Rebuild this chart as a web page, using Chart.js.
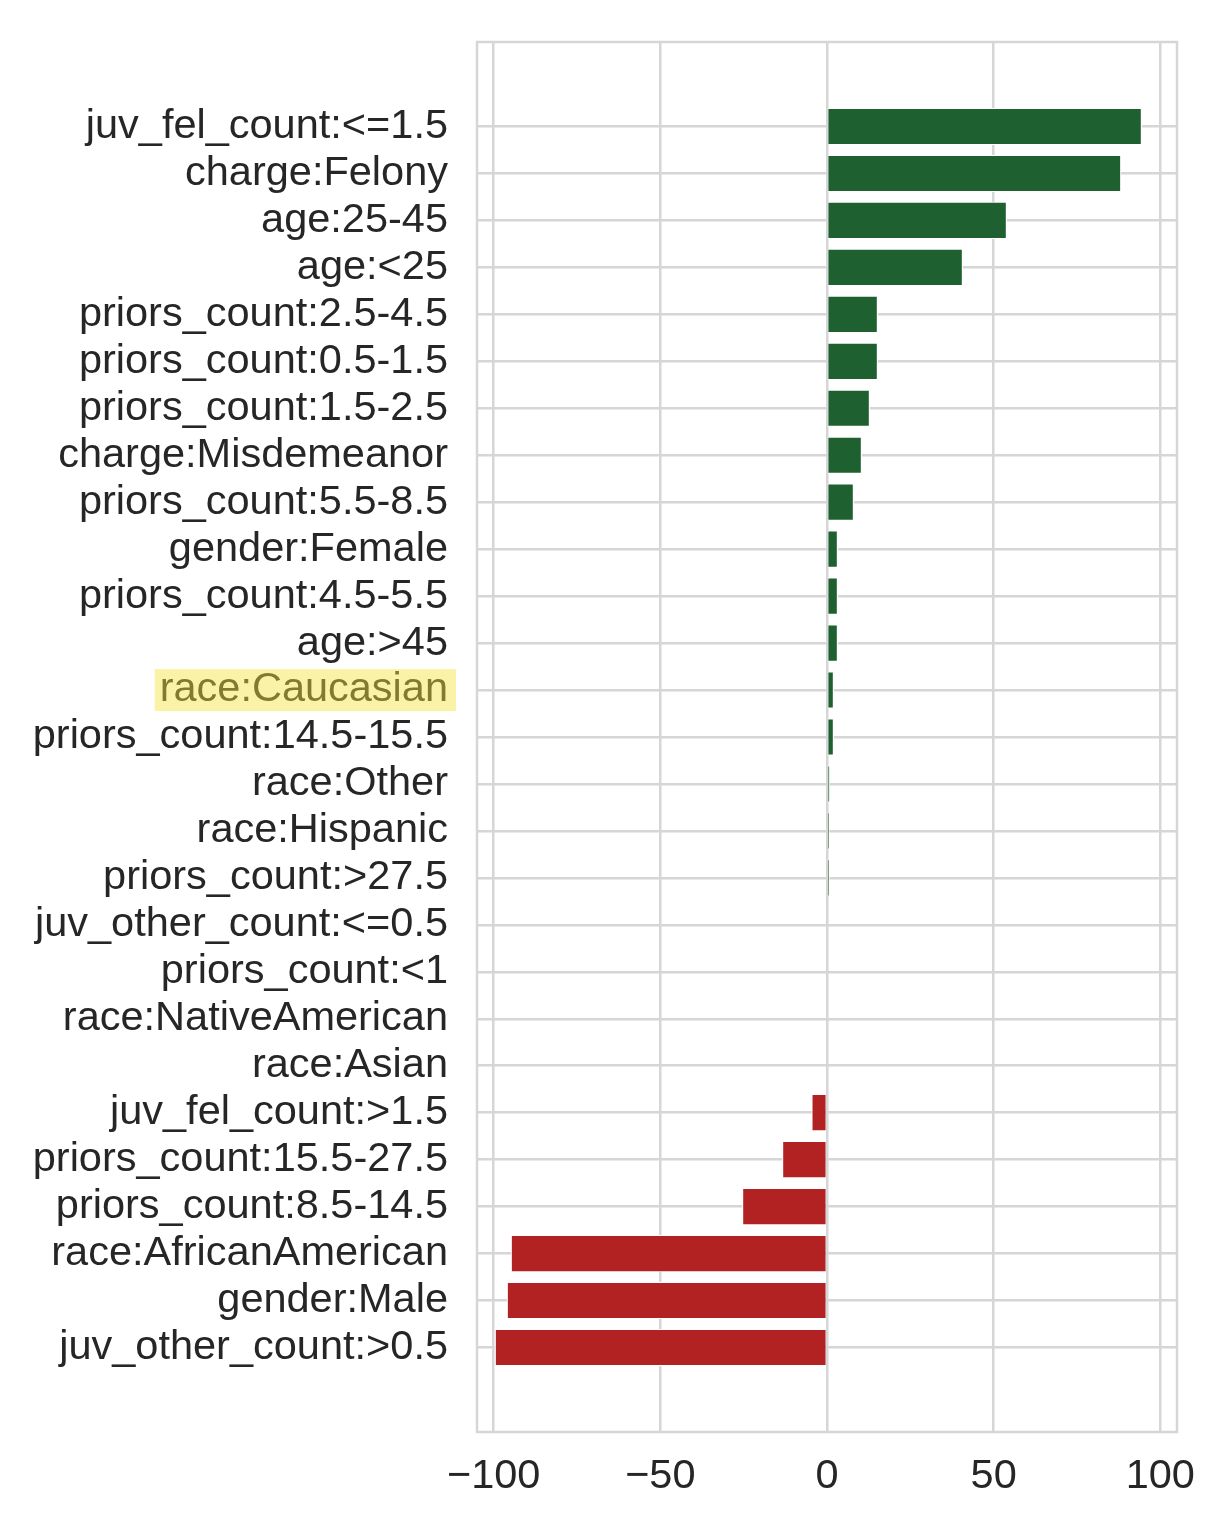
<!DOCTYPE html>
<html>
<head>
<meta charset="utf-8">
<script src="https://cdn.jsdelivr.net/npm/chart.js@4.4.3/dist/chart.umd.min.js"></script>
<style>
  html, body { margin: 0; padding: 0; background: #fff; }
  #wrap { width: 1221px; height: 1530px; position: relative; }
</style>
</head>
<body>
<div id="wrap"><canvas id="chart"></canvas></div>
<script>
// Feature weights, top to bottom
const features = [
  'juv_fel_count:<=1.5', 'charge:Felony', 'age:25-45', 'age:<25',
  'priors_count:2.5-4.5', 'priors_count:0.5-1.5', 'priors_count:1.5-2.5',
  'charge:Misdemeanor', 'priors_count:5.5-8.5', 'gender:Female',
  'priors_count:4.5-5.5', 'age:>45', 'race:Caucasian', 'priors_count:14.5-15.5',
  'race:Other', 'race:Hispanic', 'priors_count:>27.5', 'juv_other_count:<=0.5',
  'priors_count:<1', 'race:NativeAmerican', 'race:Asian', 'juv_fel_count:>1.5',
  'priors_count:15.5-27.5', 'priors_count:8.5-14.5', 'race:AfricanAmerican',
  'gender:Male', 'juv_other_count:>0.5'
];
const weights = [
  94.5, 88.3, 54.0, 40.8,
  15.3, 15.3, 12.9,
  10.5, 8.1, 3.3,
  3.3, 3.3, 2.1, 2.1,
  0.9, 0.8, 0.8, 0,
  0, 0, 0, -4.7,
  -13.5, -25.5, -94.9,
  -96.1, -99.7
];
const xTicks = [-100, -50, 0, 50, 100];
const highlighted = 'race:Caucasian';

const GREEN = '#1e6030';
const RED = '#b22222';
const GRID = '#d6d6d6';
const TEXT = '#262626';
const FONT = { family: "'Liberation Sans', Arial, sans-serif", size: 41.5 };
const LABEL_PAD = 29;

// frame on all four sides, like the seaborn whitegrid look
const framePlugin = {
  id: 'frame',
  beforeDatasetsDraw(chart) {
    const { ctx, chartArea: a } = chart;
    ctx.save();
    ctx.strokeStyle = GRID;
    ctx.lineWidth = 2.5;
    ctx.strokeRect(a.left, a.top, a.right - a.left, a.bottom - a.top);
    ctx.restore();
  }
};

// yellow marker over one tick label
const highlightPlugin = {
  id: 'highlight',
  afterDraw(chart) {
    const idx = features.indexOf(highlighted);
    if (idx < 0) return;
    const ys = chart.scales.y;
    const ctx = chart.ctx;
    ctx.save();
    ctx.font = `${FONT.size}px ${FONT.family}`;
    const w = ctx.measureText(highlighted).width;
    const cy = ys.getPixelForValue(idx);
    const right = ys.right - LABEL_PAD;
    ctx.fillStyle = 'rgba(244, 228, 60, 0.45)';
    ctx.fillRect(right - w - 5, cy - 21, w + 13, 42);
    ctx.restore();
  }
};

new Chart(document.getElementById('chart'), {
  type: 'bar',
  data: {
    datasets: [{
      data: weights.map((v, i) => ({ x: v, y: i })),
      backgroundColor: weights.map(v => v >= 0 ? GREEN : RED),
      borderColor: '#ffffff',
      borderWidth: 1.2,
      categoryPercentage: 1.0,
      barPercentage: 0.8
    }]
  },
  options: {
    indexAxis: 'y',
    responsive: true,
    maintainAspectRatio: false,
    animation: false,
    layout: { padding: { left: 0, top: 42, right: 44, bottom: 0 } },
    plugins: {
      legend: { display: false },
      tooltip: { enabled: false }
    },
    scales: {
      x: {
        type: 'linear',
        min: -105,
        max: 105,
        afterBuildTicks: (axis) => { axis.ticks = xTicks.map(v => ({ value: v })); },
        afterFit: (axis) => { axis.height = 98; },
        grid: { color: GRID, lineWidth: 2.5, drawTicks: false },
        border: { display: false },
        ticks: {
          color: TEXT,
          font: FONT,
          padding: 20,
          maxRotation: 0,
          autoSkip: false,
          callback: (v) => (v < 0 ? '\u2212' + Math.abs(v) : String(v))
        }
      },
      y: {
        type: 'linear',
        reverse: true,
        offset: false,
        min: -1.8,
        max: 27.8,
        afterBuildTicks: (axis) => { axis.ticks = features.map((_, i) => ({ value: i })); },
        afterFit: (axis) => {
          axis.width = 477;
          axis.paddingTop = 0;
          axis.paddingBottom = 0;
        },
        grid: { color: GRID, lineWidth: 2.5, drawTicks: false, offset: false },
        border: { display: false },
        ticks: {
          color: TEXT,
          font: FONT,
          padding: LABEL_PAD,
          autoSkip: false,
          callback: (v) => features[v] ?? ''
        }
      }
    }
  },
  plugins: [framePlugin, highlightPlugin]
});
</script>
</body>
</html>
